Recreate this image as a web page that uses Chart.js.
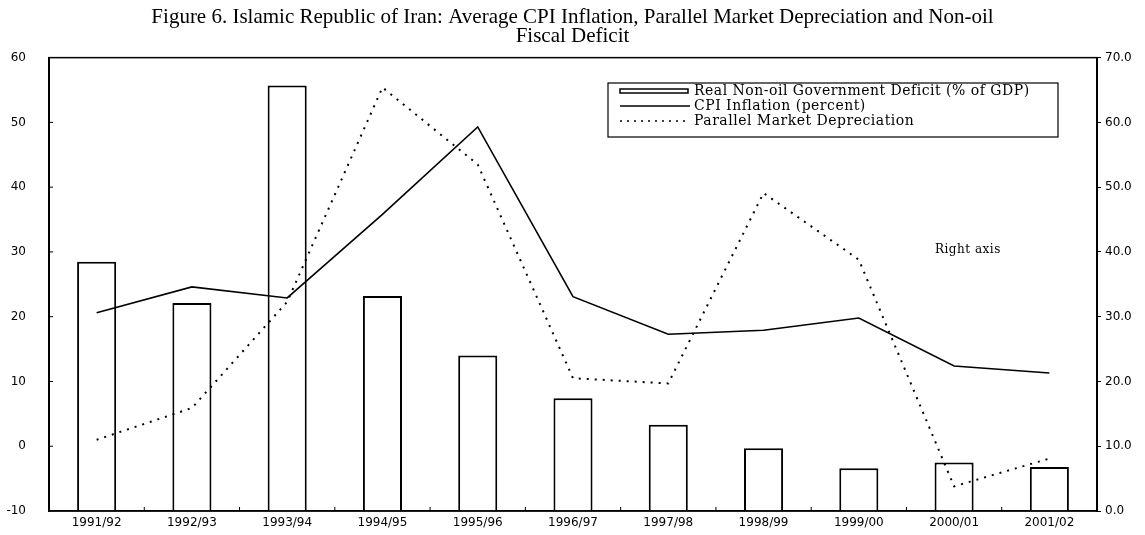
<!DOCTYPE html>
<html>
<head>
<meta charset="utf-8">
<script src="https://cdn.jsdelivr.net/npm/chart.js@4/dist/chart.umd.min.js"></script>
<style>
  html, body { margin: 0; padding: 0; background: #fff; }
  #wrap { width: 1145px; height: 535px; }
</style>
</head>
<body>
<div id="wrap"><canvas id="chart" width="1145" height="535"></canvas></div>
<script>
// values
const categories = ['1991/92', '1992/93', '1993/94', '1994/95', '1995/96', '1996/97',
  '1997/98', '1998/99', '1999/00', '2000/01', '2001/02'];
const deficit = [38.5, 32.1, 65.7, 33.2, 24.0, 17.4, 13.3, 9.7, 6.6, 7.5, 6.8];   // right axis
const cpi = [20.6, 24.6, 22.9, 35.8, 49.3, 23.1, 17.3, 17.9, 19.8, 12.4, 11.3];    // left axis
const parallel = [11.0, 15.9, 32.3, 65.4, 53.5, 20.5, 19.7, 49.1, 38.8, 3.8, 8.1]; // right axis

const titleLines = ['Figure 6. Islamic Republic of Iran: Average CPI Inflation, Parallel Market Depreciation and Non-oil',
  'Fiscal Deficit'];
const leftTicks = { min: -10, max: 60, step: 10 };
const rightTicks = { min: 0, max: 70, step: 10 };

const tickFont = { family: '"DejaVu Sans"', size: 12 };
const serif = '"DejaVu Serif"';

// frame, inward ticks, legend box and the "Right axis" note
const extras = {
  id: 'extras',
  afterDraw(chart) {
    const ctx = chart.ctx;
    const a = chart.chartArea;
    const x = chart.scales.x;
    const y = chart.scales.y;
    ctx.save();
    ctx.strokeStyle = '#000';
    ctx.lineWidth = 1.5;
    ctx.strokeRect(a.left, a.top, a.right - a.left, a.bottom - a.top);

    ctx.lineWidth = 1;
    ctx.beginPath();
    for (let i = 1; i < categories.length; i++) {
      const px = (x.getPixelForValue(i - 1) + x.getPixelForValue(i)) / 2;
      ctx.moveTo(px, a.bottom);
      ctx.lineTo(px, a.bottom - 4);
    }
    for (let v = leftTicks.min + leftTicks.step; v < leftTicks.max; v += leftTicks.step) {
      const py = y.getPixelForValue(v);
      ctx.moveTo(a.left, py);
      ctx.lineTo(a.left + 4, py);
    }
    ctx.stroke();

    // legend
    const lx = 608, ly = 83, lw = 450, lh = 54;
    ctx.fillStyle = '#fff';
    ctx.fillRect(lx, ly, lw, lh);
    ctx.lineWidth = 1.2;
    ctx.strokeRect(lx, ly, lw, lh);
    const rows = chart.data.datasets;
    const rowY = [91, 106, 121];
    ctx.font = '14px ' + serif;
    ctx.letterSpacing = '0.5px';
    ctx.textBaseline = 'middle';
    ctx.fillStyle = '#000';
    rows.forEach((ds, i) => {
      const yy = rowY[i];
      ctx.lineWidth = 1.5;
      ctx.setLineDash([]);
      if (ds.type === 'bar') {
        ctx.strokeRect(620, yy - 2, 68, 4);
      } else {
        if (ds.borderDash) ctx.setLineDash([2, 5]);
        ctx.beginPath();
        ctx.moveTo(620, yy);
        ctx.lineTo(690, yy);
        ctx.stroke();
      }
      ctx.setLineDash([]);
      ctx.fillText(ds.label, 694, yy);
    });

    ctx.font = '12px ' + serif;
    ctx.fillText('Right axis', 935, 250);
    ctx.restore();
  }
};

// drop the half-label padding that vertical scales reserve
function noEdgePad(s) {
  s.paddingTop = 0;
  s.paddingBottom = 0;
}

new Chart(document.getElementById('chart'), {
  type: 'bar',
  data: {
    labels: categories,
    datasets: [
      {
        type: 'bar',
        label: 'Real Non-oil Government Deficit (% of GDP)',
        data: deficit,
        yAxisID: 'y2',
        backgroundColor: '#fff',
        borderColor: '#000',
        borderWidth: 2,
        categoryPercentage: 1,
        barPercentage: 0.41,
        order: 3
      },
      {
        type: 'line',
        label: 'CPI Inflation (percent)',
        data: cpi,
        yAxisID: 'y',
        borderColor: '#000',
        borderWidth: 1.6,
        pointRadius: 0,
        tension: 0,
        fill: false,
        order: 1
      },
      {
        type: 'line',
        label: 'Parallel Market Depreciation',
        data: parallel,
        yAxisID: 'y2',
        borderColor: '#000',
        borderWidth: 2,
        borderDash: [2, 6],
        pointRadius: 0,
        tension: 0,
        fill: false,
        order: 2
      }
    ]
  },
  options: {
    responsive: false,
    animation: false,
    layout: { padding: 0 },
    plugins: {
      legend: { display: false },
      tooltip: { enabled: false },
      title: {
        display: true,
        text: titleLines,
        color: '#000',
        font: { family: '"Liberation Serif"', size: 21, weight: 'normal', lineHeight: 0.92 },
        padding: { top: 8, bottom: 11 }
      }
    },
    scales: {
      x: {
        offset: true,
        grid: { display: false, drawTicks: false },
        border: { display: true, color: '#000', width: 1.5 },
        ticks: { color: '#000', font: tickFont, padding: 5, maxRotation: 0, autoSkip: false },
        afterFit(s) { s.height = 24; }
      },
      y: {
        position: 'left',
        min: leftTicks.min,
        max: leftTicks.max,
        grid: { display: false, drawTicks: false },
        border: { display: true, color: '#000', width: 2 },
        ticks: { stepSize: leftTicks.step, color: '#000', font: tickFont, padding: 23 },
        afterFit(s) { s.width = 49; noEdgePad(s); }
      },
      y2: {
        position: 'right',
        min: rightTicks.min,
        max: rightTicks.max,
        grid: { drawOnChartArea: false, drawTicks: true, tickLength: 4, color: '#000' },
        border: { display: true, color: '#000', width: 2 },
        ticks: {
          stepSize: rightTicks.step, color: '#000', font: tickFont, padding: 4,
          callback: v => Number(v).toFixed(1)
        },
        afterFit(s) { s.width = 48; noEdgePad(s); }
      }
    }
  },
  plugins: [extras]
});
</script>
</body>
</html>
